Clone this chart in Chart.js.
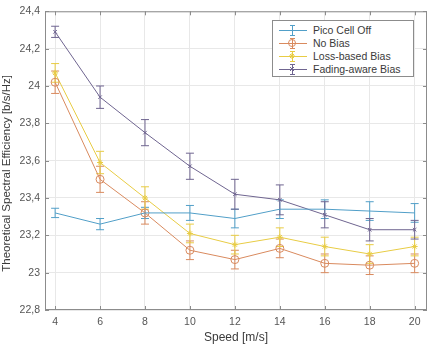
<!DOCTYPE html>
<html>
<head>
<meta charset="utf-8">
<script src="https://cdn.jsdelivr.net/npm/chart.js@4.4.0/dist/chart.umd.min.js"></script>
<style>
  html, body { margin:0; padding:0; background:#fff; }
  #wrap { position:relative; width:432px; height:346px; }
  #legend {
    position:absolute; left:272px; top:20px; width:142px; height:57px;
    border:1px solid #8c8c8c; background:#fff; box-sizing:border-box;
    padding:2px 0 0 4px; font-family:"Liberation Sans", Arial, sans-serif; font-size:10.5px; color:#3a3a3a;
  }
  .lg-row { display:flex; align-items:center; height:13px; }
  .lg-row svg { margin-right:4px; }
</style>
</head>
<body>
<div id="wrap">
  <canvas id="c" width="432" height="346"></canvas>
  <div id="legend"></div>
</div>
<script>
const SPEEDS   = [4, 6, 8, 10, 12, 14, 16, 18, 20];
const X_TICKS  = [4, 6, 8, 10, 12, 14, 16, 18, 20];
const Y_TICKS  = [22.8, 23, 23.2, 23.4, 23.6, 23.8, 24, 24.2, 24.4];

const LABELS   = ['Pico Cell Off', 'No Bias', 'Loss-based Bias', 'Fading-aware Bias'];
const COLORS   = ['#519fc8', '#d98a5e', '#e8cc44', '#6f6590'];

const PICO     = [23.32, 23.26, 23.32, 23.32, 23.29, 23.34, 23.34, 23.33, 23.32];
const NO_BIAS  = [24.02, 23.50, 23.32, 23.12, 23.07, 23.13, 23.05, 23.04, 23.05];
const LOSS     = [24.07, 23.59, 23.40, 23.21, 23.15, 23.19, 23.14, 23.10, 23.14];
const FADING   = [24.29, 23.94, 23.75, 23.57, 23.42, 23.39, 23.31, 23.23, 23.23];

const ERR_PICO    = [0.025, 0.03, 0.03, 0.04, 0.05, 0.05, 0.05, 0.05, 0.05];
const ERR_NO_BIAS = [0.06, 0.07, 0.06, 0.05, 0.05, 0.05, 0.05, 0.05, 0.05];
const ERR_LOSS    = [0.05, 0.06, 0.06, 0.05, 0.05, 0.05, 0.05, 0.05, 0.05];
const ERR_FADING  = [0.03, 0.06, 0.07, 0.07, 0.08, 0.08, 0.07, 0.06, 0.05];

const SERIES = [PICO, NO_BIAS, LOSS, FADING];
const ERRORS = [ERR_PICO, ERR_NO_BIAS, ERR_LOSS, ERR_FADING];
const POINT_STYLES = ['circle', 'circle', 'star', 'crossRot'];
const POINT_SIZES  = [0, 4, 3, 2.5];

const FONT = '"Liberation Sans", Arial, sans-serif';

function fmtTick(v) { return String(Math.round(v * 10) / 10).replace('.', ','); }

// vertical error bars with caps, drawn through the chart scales
const errorBars = {
  id: 'errorBars',
  beforeDatasetsDraw(chart) {
    const { ctx, scales: { x, y } } = chart;
    ctx.save();
    ctx.lineWidth = 1;
    chart.data.datasets.forEach((ds, i) => {
      ctx.strokeStyle = ds.borderColor;
      ds.data.forEach((p, j) => {
        const e  = ERRORS[i][j];
        const px = x.getPixelForValue(p.x);
        const y1 = y.getPixelForValue(p.y + e);
        const y2 = y.getPixelForValue(p.y - e);
        ctx.beginPath();
        ctx.moveTo(px, y1); ctx.lineTo(px, y2);
        ctx.moveTo(px - 4, y1); ctx.lineTo(px + 4, y1);
        ctx.moveTo(px - 4, y2); ctx.lineTo(px + 4, y2);
        ctx.stroke();
      });
    });
    ctx.restore();
  }
};

// matlab-like box with inward ticks
const frame = {
  id: 'frame',
  afterDraw(chart) {
    const { ctx, chartArea: a, scales: { x, y } } = chart;
    ctx.save();
    ctx.strokeStyle = '#8c8c8c';
    ctx.lineWidth = 1;
    ctx.strokeRect(a.left + 0.5, a.top + 0.5, a.right - a.left - 1, a.bottom - a.top - 1);
    ctx.beginPath();
    X_TICKS.forEach(t => {
      const px = Math.round(x.getPixelForValue(t)) + 0.5;
      ctx.moveTo(px, a.bottom); ctx.lineTo(px, a.bottom - 4);
      ctx.moveTo(px, a.top);    ctx.lineTo(px, a.top + 4);
    });
    Y_TICKS.forEach(t => {
      const py = Math.round(y.getPixelForValue(t)) + 0.5;
      ctx.moveTo(a.left, py);  ctx.lineTo(a.left + 4, py);
      ctx.moveTo(a.right, py); ctx.lineTo(a.right - 4, py);
    });
    ctx.stroke();
    ctx.restore();
  }
};

new Chart(document.getElementById('c'), {
  type: 'line',
  data: {
    datasets: SERIES.map((s, i) => ({
      label: LABELS[i],
      data: s.map((v, j) => ({ x: SPEEDS[j], y: v })),
      borderColor: COLORS[i],
      backgroundColor: i === 1 ? 'rgba(0,0,0,0)' : COLORS[i],
      borderWidth: 1,
      pointStyle: POINT_STYLES[i],
      pointRadius: POINT_SIZES[i],
      pointBorderWidth: 1,
      tension: 0,
      fill: false
    }))
  },
  options: {
    responsive: false,
    animation: false,
    layout: { padding: { left: 0, top: 10, right: 5, bottom: 0 } },
    plugins: { legend: { display: false }, tooltip: { enabled: false } },
    scales: {
      x: {
        type: 'linear', min: 3.55, max: 20.55,
        afterBuildTicks: s => { s.ticks = X_TICKS.map(v => ({ value: v })); },
        afterFit: s => { s.height = 36; },
        grid: { color: '#e8e8e8', drawTicks: false },
        border: { display: false },
        ticks: { color: '#555', font: { family: FONT, size: 10.5 }, padding: 6, maxRotation: 0 },
        title: { display: true, text: 'Speed [m/s]', color: '#3a3a3a', font: { family: FONT, size: 12 }, padding: { top: 0, bottom: 1 } }
      },
      y: {
        min: 22.8, max: 24.4,
        afterBuildTicks: s => { s.ticks = Y_TICKS.map(v => ({ value: v })); },
        afterFit: s => { s.width = 45; },
        grid: { color: '#e8e8e8', drawTicks: false },
        border: { display: false },
        ticks: { color: '#555', font: { family: FONT, size: 10.5 }, padding: 5, callback: v => fmtTick(v) },
        title: { display: true, text: 'Theoretical Spectral Efficiency [b/s/Hz]        ', color: '#3a3a3a', font: { family: FONT, size: 11.5 }, padding: { top: 0, bottom: 0 } }
      }
    }
  },
  plugins: [errorBars, frame]
});

// legend with line + error bar samples
document.getElementById('legend').innerHTML = LABELS.map((l, i) => {
  let mk = '';
  if (i === 1) mk = `<circle cx="15" cy="6" r="3.5" fill="none" stroke="${COLORS[i]}"/>`;
  if (i === 2) mk = `<path d="M12 6h6M15 3v6M13 4l4 4M17 4l-4 4" stroke="${COLORS[i]}"/>`;
  if (i === 3) mk = `<path d="M13 4l4 4M17 4l-4 4" stroke="${COLORS[i]}"/>`;
  return `<div class="lg-row"><svg width="32" height="12">
    <path d="M2 6.5h28M15.5 1v11M13 1.5h5M13 11.5h5" stroke="${COLORS[i]}" stroke-width="1" fill="none"/>${mk}</svg>${l}</div>`;
}).join('');
</script>
</body>
</html>
